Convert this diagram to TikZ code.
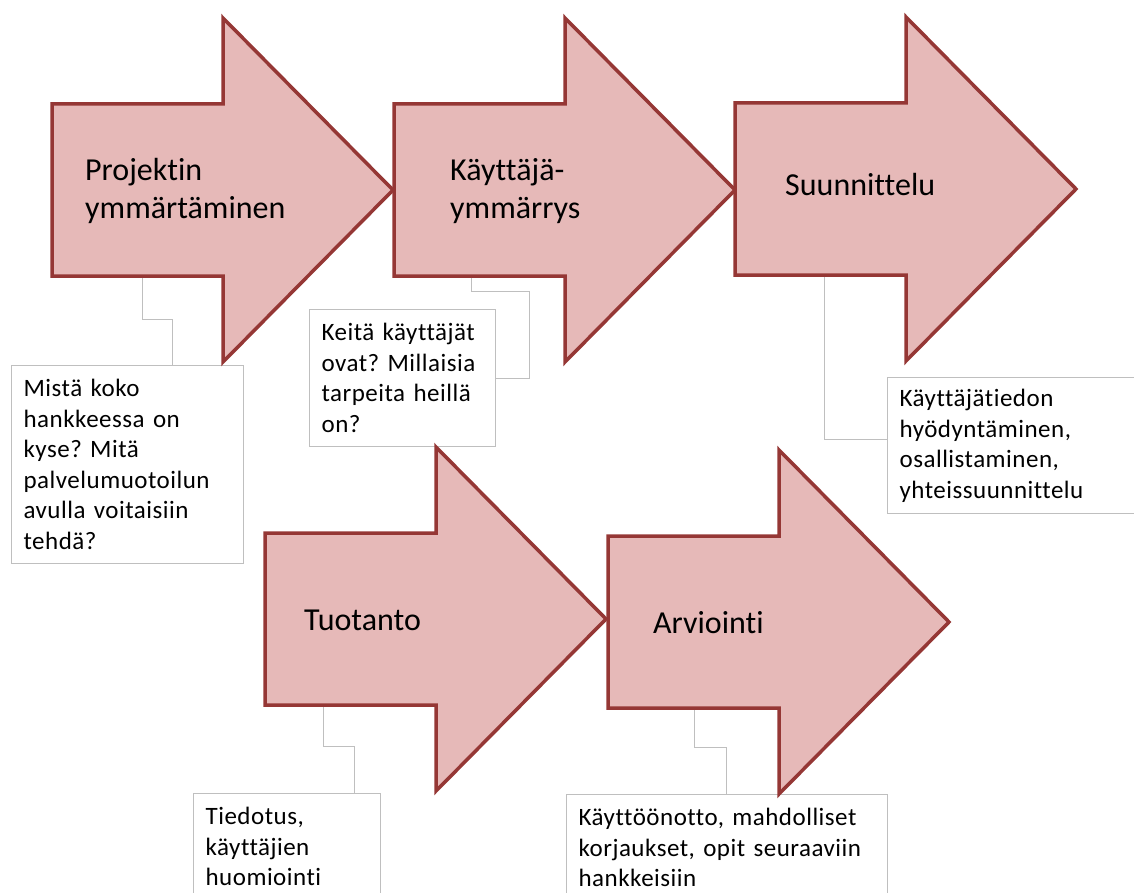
\documentclass[tikz,border=0pt]{standalone}
\usepackage{fontspec}
\setmainfont{Carlito}[Ligatures=NoCommon]
\definecolor{stageFill}{RGB}{230,185,184}
\definecolor{stageLine}{RGB}{149,55,53}
\definecolor{noteLine}{RGB}{191,191,191}
\frenchspacing
\begin{document}
\begin{tikzpicture}
% Service design process: five stage arrows with note boxes
\providecommand{\stageLineWidth}{3.5pt}
% arrow with body corner at (#1,#2): body 171 wide, 172 high, head 170 long
\def\stagearrow#1#2{\draw[stage] (#1,#2) -- ++(171,0) -- ++(0,-86) -- ++(170,172) -- ++(-170,172) -- ++(0,-86) -- ++(-171,0) -- cycle;}
\begin{scope}[x=1pt, y=-1pt,
  stage/.style={fill=stageFill, draw=stageLine, line width=\stageLineWidth, line join=miter},
  stagelabel/.style={anchor=west, inner sep=0pt, align=left, font=\fontsize{32}{38}\selectfont},
  notebox/.style={draw=noteLine, line width=1.2pt, fill=white, anchor=north west,
    inner xsep=12pt, inner ysep=0pt, align=left,
    font=\fontsize{25}{30.5}\selectfont\addfontfeature{LetterSpace=2}},
  leader/.style={draw=noteLine, line width=1pt}]
  \clip (0,0) rectangle (1134,893);
  % Note boxes
  \node[notebox, text width=208pt, minimum height=198pt] (mista) at (11,365)
    {Mistä koko\\hankkeessa on\\kyse? Mitä\\palvelumuotoilun\\avulla voitaisiin\\tehdä?};
  \node[notebox, text width=162pt, minimum height=137pt] (keita) at (309,309)
    {Keitä käyttäjät\\ovat? Millaisia\\tarpeita heillä\\on?};
  \node[notebox, text width=236pt, minimum height=136pt] (tieto) at (887,377)
    {Käyttäjätiedon\\hyödyntäminen,\\osallistaminen,\\yhteissuunnittelu};
  \node[notebox, text width=163pt, minimum height=106pt] (tiedotus) at (193,793)
    {Tiedotus,\\käyttäjien\\huomiointi};
  \node[notebox, text width=297pt, minimum height=106pt] (kaytto) at (566,794)
    {Käyttöönotto, mahdolliset\\korjaukset, opit seuraaviin\\hankkeisiin};
  % Leader lines from the arrow bodies
  \coordinate (projBot) at (142,276);
  \coordinate (kayBot) at (471,276);
  \coordinate (suunBot) at (824,275);
  \coordinate (tuoBot) at (323,705);
  \coordinate (arvBot) at (694,708);
  \draw[leader] (projBot) -- ++(0,43) -| ([xshift=161pt]mista.north west);
  \draw[leader] (kayBot) -- ++(0,15) -| ([xshift=33pt]keita.east) -- (keita.east);
  \draw[leader] (suunBot) |- ([yshift=6pt]tieto.west);
  \draw[leader] (tuoBot) -- ++(0,41) -| ([xshift=161pt]tiedotus.north west);
  \draw[leader] (arvBot) -- ++(0,39) -| ([xshift=160pt]kaytto.north west);
  % Stage arrows
  \stagearrow{52}{104}
  \stagearrow{394}{104}
  \stagearrow{735}{103}
  \stagearrow{265}{533}
  \stagearrow{608}{536}
  % Stage labels
  \node[stagelabel] (projekti) at (85,191) {Projektin\\ymmärtäminen};
  \node[stagelabel] (kayttaja) at (450,191) {Käyttäjä-\\ymmärrys};
  \node[stagelabel] (suunnittelu) at (785,185) {Suunnittelu};
  \node[stagelabel] (tuotanto) at (304,620) {Tuotanto};
  \node[stagelabel] (arviointi) at (653,623) {Arviointi};
\end{scope}
\end{tikzpicture}
\end{document}
